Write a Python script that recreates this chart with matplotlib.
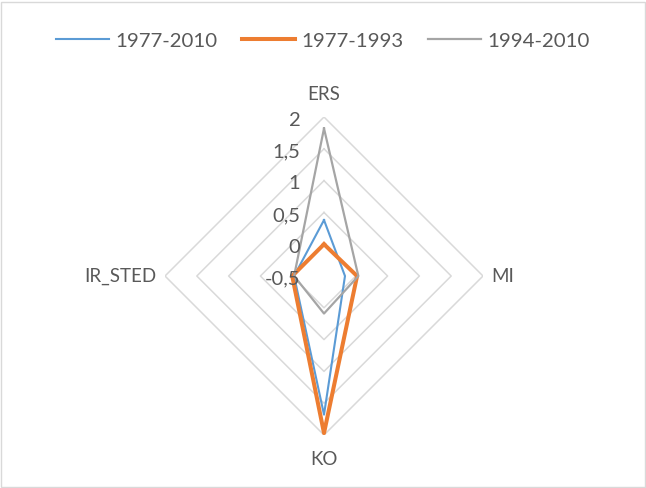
import numpy as np
import matplotlib
matplotlib.use("Agg")
from matplotlib import pyplot as plt
from matplotlib.patches import Rectangle

# axes of the radar, clockwise from the top
categories = ["ERS", "MI", "KO", "IR_STED"]
series_names = ["1977-2010", "1977-1993", "1994-2010"]
s_1977_2010 = [0.38, -0.17, 1.68, -0.03]
s_1977_1993 = [0.0, 0.02, 1.97, 0.0]
s_1994_2010 = [1.82, 0.04, 0.09, -0.03]
ring_values = [-0.5, 0, 0.5, 1, 1.5, 2]
ring_labels = ["-0,5", "0", "0,5", "1", "1,5", "2"]

colors = ["#5B9BD5", "#ED7D31", "#A5A5A5"]
widths = [1.5, 2.9, 1.6]
text_color = "#595959"
grid_color = "#D9D9D9"

plt.rcParams["font.family"] = ["Lato", "DejaVu Sans"]

fig = plt.figure(figsize=(6.46, 4.88), dpi=100)
fig.patches.append(Rectangle((0.002, 0.002), 0.996, 0.994, transform=fig.transFigure,
                             fill=False, edgecolor=grid_color, linewidth=1.0))

ax = fig.add_axes([0.2554, 0.1086, 0.4923, 0.6516], projection="polar")
ax.set_theta_offset(np.pi / 2)
ax.set_theta_direction(-1)
ax.set_ylim(ring_values[0], ring_values[-1])
ax.grid(False)
ax.spines["polar"].set_visible(False)
ax.set_xticks([])
ax.set_yticks([])
ax.patch.set_alpha(0)

theta = np.linspace(0, 2 * np.pi, len(categories), endpoint=False)
theta_closed = np.append(theta, theta[0])

# diamond grid rings
for v in ring_values[1:]:
    ax.plot(theta_closed, [v] * len(theta_closed), color=grid_color, lw=1.1, zorder=1)

# data series
for name, vals, c, w in zip(series_names, [s_1977_2010, s_1977_1993, s_1994_2010], colors, widths):
    ax.plot(theta_closed, vals + vals[:1], color=c, lw=w, label=name, zorder=3)

# value labels along the top axis
for v, lab in zip(ring_values, ring_labels):
    ax.annotate(lab, xy=(0, v), xytext=(-17, -2.2), textcoords="offset points",
                ha="right", va="center", fontsize=14.5, color=text_color)

# category labels
cat_size = 13.5
ax.annotate(categories[0], xy=(0, 2), xytext=(0, 16.3), textcoords="offset points",
            ha="center", va="center", fontsize=cat_size, color=text_color)
ax.annotate(categories[1], xy=(theta[1], 2), xytext=(6.3, 0), textcoords="offset points",
            ha="left", va="center", fontsize=cat_size, color=text_color)
ax.annotate(categories[2], xy=(theta[2], 2), xytext=(0, -17.3), textcoords="offset points",
            ha="center", va="center", fontsize=cat_size, color=text_color)
ax.annotate(categories[3], xy=(theta[3], 2), xytext=(-6.5, 0), textcoords="offset points",
            ha="right", va="center", fontsize=cat_size, color=text_color)

leg = fig.legend(loc="center", bbox_to_anchor=(0.5, 1 - 41 / 488), ncol=3, frameon=False,
                 fontsize=14.7, handlelength=2.6, handletextpad=0.3, columnspacing=1.2)
for t in leg.get_texts():
    t.set_color(text_color)

fig.savefig("out.png", dpi=100)
